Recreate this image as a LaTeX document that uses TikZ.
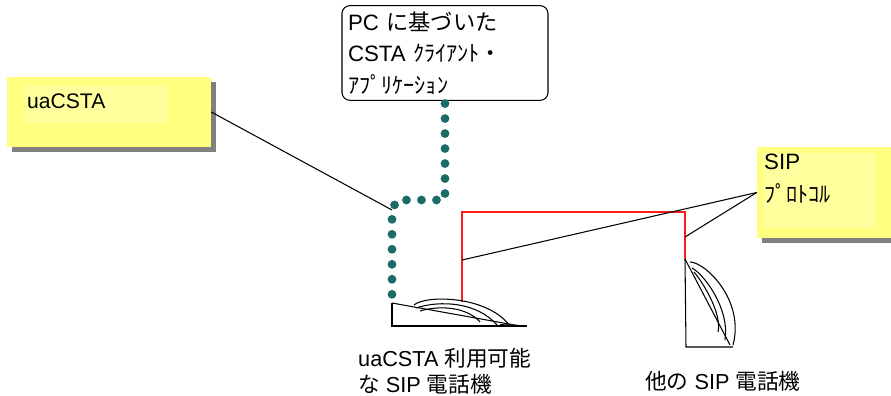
\documentclass[tikz,border=0pt]{standalone}
\usepackage{fontspec}
\setmainfont{Liberation Sans}
\newfontfamily\jp{Noto Sans CJK JP}
\usetikzlibrary{shadows}

\definecolor{noteyellow}{HTML}{FFFF80}
\definecolor{notelight}{HTML}{FFFF9E}
\definecolor{noteshadow}{HTML}{808080}
\definecolor{dotgreen}{HTML}{1B6B67}
\definecolor{linkred}{HTML}{FF1A1A}

\tikzset{
  note/.style={fill=noteyellow, inner sep=0pt,
    drop shadow={shadow xshift=0.15cm, shadow yshift=-0.15cm, fill=noteshadow, opacity=1}},
  ctalink/.style={dotgreen, line width=7.5pt, line cap=round, dash pattern=on 0pt off 12.8pt},
  siplink/.style={linkred, line width=1.1pt},
  wire/.style={line width=0.9pt},
}

\begin{document}
\begin{tikzpicture}[x=0.03cm,y=-0.03cm]
\useasboundingbox (0,0) rectangle (891,396);

% yellow notes
\node[note, minimum width=6.12cm, minimum height=2.1cm] (ua) at (109,112) {};
\fill[notelight] (25,86) rectangle (167,123);
\node[anchor=base west, inner sep=0pt, font=\fontsize{18}{20}\selectfont] (uatext) at (27,109) {uaCSTA};

\node[note, minimum width=4.5cm, minimum height=2.73cm] (sip) at (832,192.5) {};
\fill[notelight] (763,153) rectangle (876,228);
\node[anchor=north west, inner sep=0pt, align=left, font=\fontsize{19}{28}\selectfont] (siptext) at (764,154) {SIP\\{\jp ﾌﾟﾛﾄｺﾙ}};

% client application
\node[draw, rounded corners=0.24cm, line width=0.9pt, minimum width=6.18cm, minimum height=2.7cm,
  text width=5.82cm, inner sep=5pt, align=left, font=\fontsize{19}{27}\selectfont]
  (client) at (445,53) {PC {\jp に基づいた}\\CSTA {\jp ｸﾗｲｱﾝﾄ・}\\{\jp ｱﾌﾟﾘｹｰｼｮﾝ}};

\coordinate (bend) at (445,200);
\coordinate (kink) at (397,200);
\coordinate (joint) at (392,210);
\coordinate (ph1top) at (392,303);
\coordinate (ph1jack) at (462,302);
\coordinate (ph2jack) at (685,259);
\coordinate (tap1) at (462,260);
\coordinate (tap2) at (685,237);

% CSTA link and SIP link
\draw[ctalink] ([yshift=-0.08cm]client.south) -- (bend) -- (kink) -- (joint) -- (ph1top);
\draw[wire] (ua.east) -- (joint);
\draw[siplink] (ph1jack) -- (462,212) -- (685,212) -- (ph2jack);
\draw[wire] (sip.west) -- (tap1);
\draw[wire] (sip.west) -- (tap2);

% phone 1
\draw[wire] (ph1top) -- (392,326) -- (527,326);
\draw[wire] (ph1top) -- (520,326);
\draw[wire] (414,305) .. controls (425,295) and (487,295) .. (510,326);
\draw[wire] (416,308) .. controls (440,300) and (477,302) .. (497,325);
\draw[wire] (420,311) .. controls (440,305) and (467,307) .. (480,322);
\draw[line width=1.6pt] (500,325) -- (520,326);

% phone 2
\draw[wire] (ph2jack) -- (686,347) -- (733,347);
\draw[wire] (ph2jack) -- (730,345);
\draw[wire] (690,262) .. controls (705,262) and (745,300) .. (733,345);
\draw[wire] (692,268) .. controls (705,275) and (730,310) .. (725,340);
\draw[wire] (694,272) .. controls (705,285) and (722,315) .. (718,332);

% captions
\node[anchor=north west, inner sep=0pt, align=left, font=\fontsize{18.5}{22}\selectfont]
  (ph1label) at (358,348) {uaCSTA {\jp 利用可能}\\{\jp な} SIP {\jp 電話機}};
\node[anchor=north west, inner sep=0pt, font=\fontsize{18.5}{22}\selectfont]
  (ph2label) at (645,371) {{\jp 他の} SIP {\jp 電話機}};
\end{tikzpicture}
\end{document}
